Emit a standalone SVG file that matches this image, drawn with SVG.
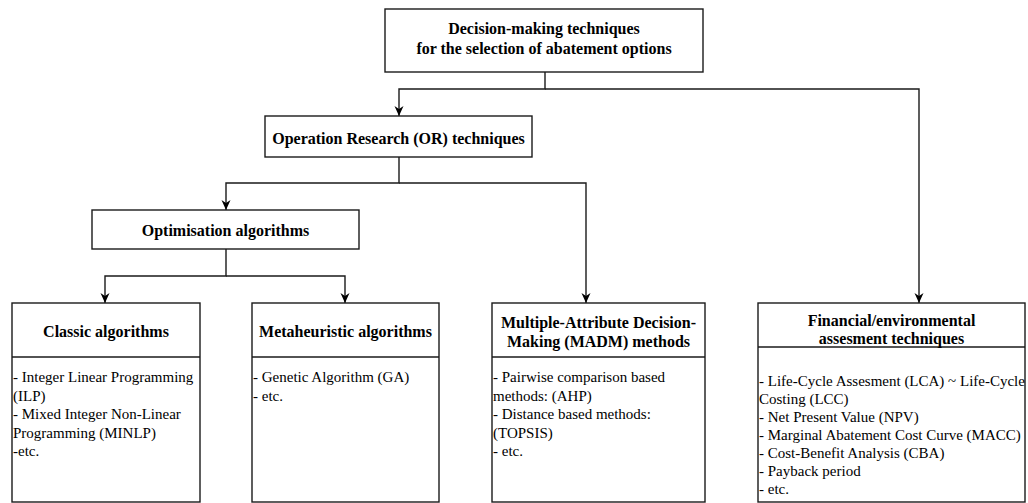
<svg xmlns="http://www.w3.org/2000/svg" width="1028" height="503" viewBox="0 0 1028 503">
  <style>
    .box { fill: #ffffff; stroke: #1a1a1a; stroke-width: 1.4; }
    .div { stroke: #1a1a1a; stroke-width: 1.4; fill: none; }
    .edge { fill: none; stroke: #1a1a1a; stroke-width: 1.4; marker-end: url(#arrow); }
    .title { font-size: 16px; font-weight: bold; text-anchor: middle; }
    .body { font-size: 15px; }
  </style>
  <defs>
    <marker id="arrow" viewBox="0 0 10 10" refX="10" refY="5" markerWidth="10" markerHeight="10" markerUnits="userSpaceOnUse" orient="auto">
      <path d="M0,0.5 L10,5 L0,9.5 L3,5 Z" fill="#000"/>
    </marker>
  </defs>
  <rect width="1028" height="503" fill="#ffffff"/>

  <!-- connectors -->
  <g id="connectors">
    <path class="edge" d="M545,72 V89 H399 V116"/>
    <path class="edge" d="M545,89 H919 V303"/>
    <path class="edge" d="M399,157 V183 H226 V210"/>
    <path class="edge" d="M399,183 H586 V303"/>
    <path class="edge" d="M226,249 V276 H105 V303"/>
    <path class="edge" d="M226,276 H345 V303"/>
  </g>

  <g font-family="Liberation Serif, Times New Roman, serif" font-size="15" fill="#000">
  <!-- root -->
  <g id="decision-making">
    <rect class="box" x="385" y="9" width="318" height="63"/>
    <text class="title" x="544" y="33.5">Decision-making techniques</text>
    <text class="title" x="544" y="53.5">for the selection of abatement options</text>
  </g>

  <g id="operation-research">
    <rect class="box" x="265" y="116" width="267" height="41"/>
    <text class="title" x="398.5" y="143.5">Operation Research (OR) techniques</text>
  </g>

  <g id="optimisation">
    <rect class="box" x="92" y="210" width="267" height="39"/>
    <text class="title" x="225.5" y="235.5">Optimisation algorithms</text>
  </g>

  <g id="classic">
    <rect class="box" x="12" y="303" width="188" height="199"/>
    <line class="div" x1="12" y1="357" x2="200" y2="357"/>
    <text class="title" x="106" y="336.5">Classic algorithms</text>
    <text class="body" x="13" y="382">- Integer Linear Programming</text>
    <text class="body" x="13" y="400.5">(ILP)</text>
    <text class="body" x="13" y="419">- Mixed Integer Non-Linear</text>
    <text class="body" x="13" y="437.5">Programming (MINLP)</text>
    <text class="body" x="13" y="456">-etc.</text>
  </g>

  <g id="metaheuristic">
    <rect class="box" x="252" y="303" width="187" height="199"/>
    <line class="div" x1="252" y1="357" x2="439" y2="357"/>
    <text class="title" x="345.5" y="336.5">Metaheuristic algorithms</text>
    <text class="body" x="253" y="382">- Genetic Algorithm (GA)</text>
    <text class="body" x="253" y="400.5">- etc.</text>
  </g>

  <g id="madm">
    <rect class="box" x="492" y="303" width="213" height="199"/>
    <line class="div" x1="492" y1="357" x2="705" y2="357"/>
    <text class="title" x="598.5" y="327.5">Multiple-Attribute Decision-</text>
    <text class="title" x="598.5" y="346.5">Making (MADM) methods</text>
    <text class="body" x="493" y="382">- Pairwise comparison based</text>
    <text class="body" x="493" y="400.5">methods: (AHP)</text>
    <text class="body" x="493" y="419">- Distance based methods:</text>
    <text class="body" x="493" y="437.5">(TOPSIS)</text>
    <text class="body" x="493" y="456">- etc.</text>
  </g>

  <g id="financial">
    <rect class="box" x="758" y="303" width="267" height="199"/>
    <line class="div" x1="758" y1="347" x2="1025" y2="347"/>
    <text class="title" x="891.5" y="326">Financial/environmental</text>
    <text class="title" x="891.5" y="344">assesment techniques</text>
    <text class="body" x="759" y="386">- Life-Cycle Assesment (LCA) ~ Life-Cycle</text>
    <text class="body" x="759" y="404">Costing (LCC)</text>
    <text class="body" x="759" y="422">- Net Present Value (NPV)</text>
    <text class="body" x="759" y="440">- Marginal Abatement Cost Curve (MACC)</text>
    <text class="body" x="759" y="458">- Cost-Benefit Analysis (CBA)</text>
    <text class="body" x="759" y="476">- Payback period</text>
    <text class="body" x="759" y="494">- etc.</text>
  </g>
  </g>
</svg>
